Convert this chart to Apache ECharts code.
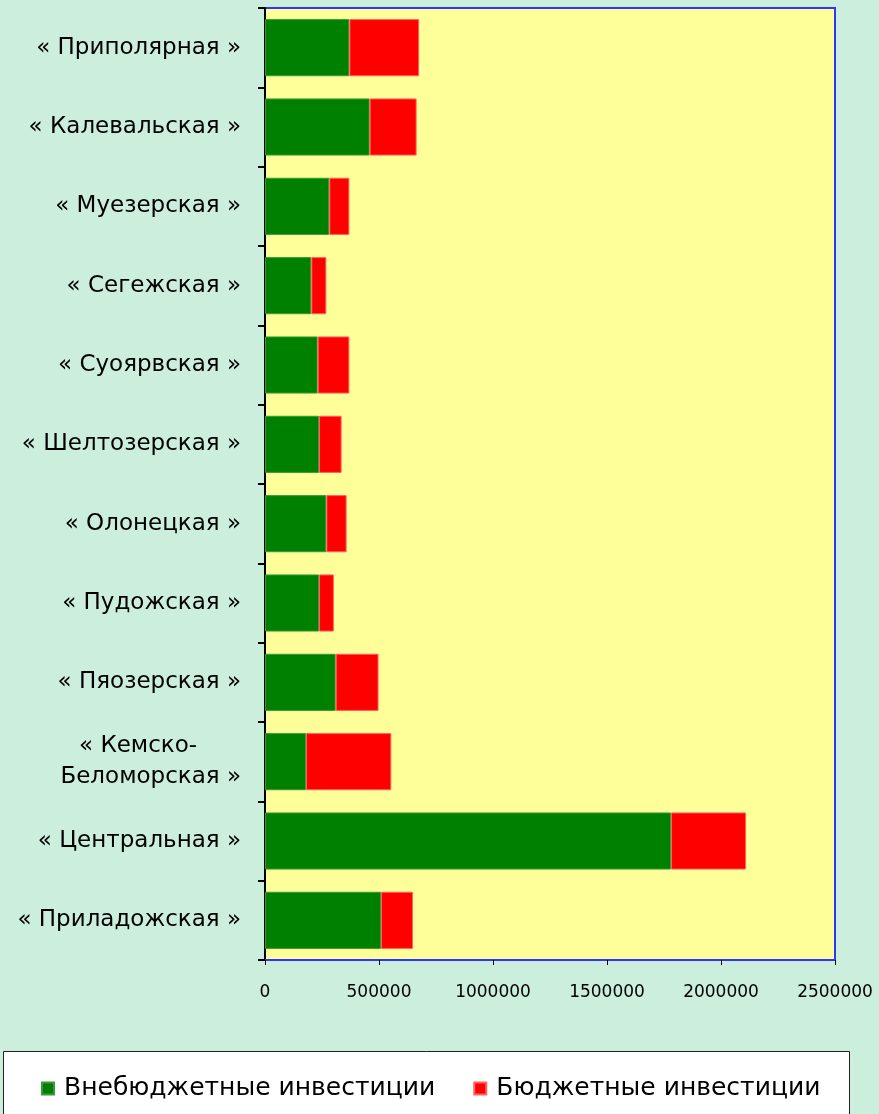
<!DOCTYPE html>
<html><head><meta charset="utf-8">
<script src="https://cdn.jsdelivr.net/npm/echarts@6/dist/echarts.min.js"></script>
<style>html,body{margin:0;padding:0;background:#CCEEDD;}#c{width:879px;height:1114px;}</style>
</head><body><div id="c"></div>
<script>
const categories = ["« Приполярная »","« Калевальская »","« Муезерская »","« Сегежская »","« Суоярвская »","« Шелтозерская »","« Олонецкая »","« Пудожская »","« Пяозерская »","« Кемско-      \nБеломорская »","« Центральная »","« Приладожская »"];
const offBudget = [370000, 459000, 282000, 203000, 231000, 237000, 269000, 237000, 310000, 180000, 1781000, 509000];
const budget    = [306000, 206000,  88000,  66000, 139000,  99000,  89000,  65000, 188000, 374000,  329000, 140000];
const xTicks = [0, 500000, 1000000, 1500000, 2000000, 2500000];
const seriesNames = ["Внебюджетные инвестиции", "Бюджетные инвестиции"];

const chart = echarts.init(document.getElementById('c'), null, {renderer:'canvas'});
const font = "'DejaVu Sans', sans-serif";
chart.setOption({
  backgroundColor: '#CCEEDD',
  animation: false,
  graphic: [{
    type: 'rect', left: 3, top: 1051, z: 0,
    shape: {width: 846, height: 80},
    style: {fill: '#ffffff', stroke: '#222222', lineWidth: 1}
  }],
  grid: {left: 265, right: 44, top: 8, bottom: 154, show: true, backgroundColor: '#FFFF99', borderColor: '#3333FF', borderWidth: 2},
  legend: {
    left: 36, top: 1071, itemWidth: 12, itemHeight: 12, itemGap: 38, icon: 'rect',
    textStyle: {fontFamily: font, fontSize: 25, color: '#000', padding: [0, 0, 0, 5]},
    data: seriesNames
  },
  xAxis: {
    type: 'value', min: xTicks[0], max: xTicks[xTicks.length-1], interval: 500000,
    splitLine: {show: false},
    axisLine: {show: true, lineStyle: {color: '#3333FF', width: 2}},
    axisTick: {show: true, length: 5, lineStyle: {color: '#000'}},
    axisLabel: {fontFamily: font, fontSize: 17, color: '#000', margin: 24, formatter: v => String(v)}
  },
  yAxis: {
    type: 'category', inverse: true, data: categories,
    axisLine: {show: true, lineStyle: {color: '#000', width: 2}},
    axisTick: {show: true, length: 7, inside: false, lineStyle: {color: '#000', width: 2}},
    axisLabel: {fontFamily: font, fontSize: 23, color: '#000', margin: 24, align: 'right', lineHeight: 31}
  },
  series: [
    {name: seriesNames[0], type: 'bar', stack: 's', data: offBudget, barCategoryGap: '28%',
     itemStyle: {color: '#008000', borderColor: '#3a9a3a', borderWidth: 1}},
    {name: seriesNames[1], type: 'bar', stack: 's', data: budget, barCategoryGap: '28%',
     itemStyle: {color: '#FF0000', borderColor: '#ff6060', borderWidth: 1}}
  ]
});
</script></body></html>
